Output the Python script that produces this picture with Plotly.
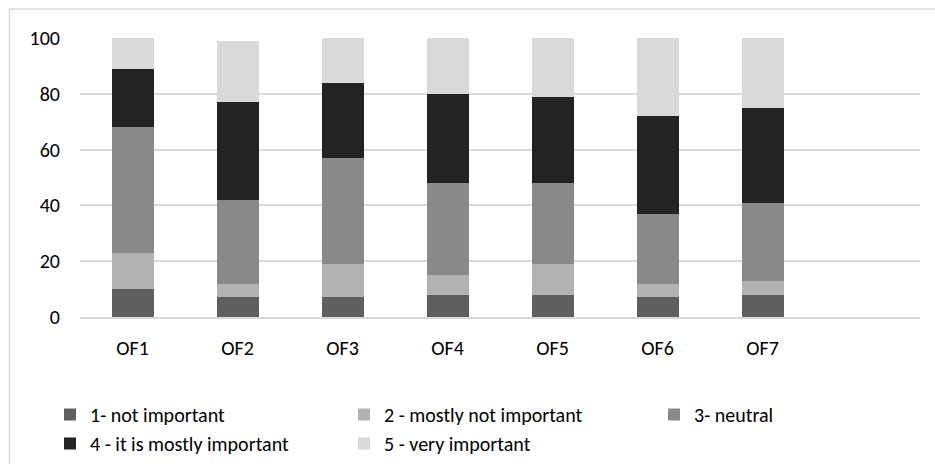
import plotly.graph_objects as go

# Survey responses per factor (percent of respondents)
categories = ["OF1", "OF2", "OF3", "OF4", "OF5", "OF6", "OF7"]
not_important = [10, 7, 7, 8, 8, 7, 8]
mostly_not_important = [13, 5, 12, 7, 11, 5, 5]
neutral = [45, 30, 38, 33, 29, 25, 28]
mostly_important = [21, 35, 27, 32, 31, 35, 34]
very_important = [11, 22, 16, 20, 21, 28, 25]

series_names = [
    "1- not important",
    "2 - mostly not important",
    "3- neutral",
    "4 - it is mostly important",
    "5 - very important",
]
series_values = [not_important, mostly_not_important, neutral,
                 mostly_important, very_important]
series_colors = ["#5f5f5f", "#b2b2b2", "#898989", "#232323", "#d9d9d9"]
# legend columns: first column holds 1 and 4, second 2 and 5, third 3
series_legends = ["legend", "legend2", "legend3", "legend", "legend2"]

y_ticks = [0, 20, 40, 60, 80, 100]

W, H = 935, 464
ML, MR, MT, MB = 80, 15, 38, 147

FONT = "Carlito, Lato, sans-serif"
FS = 20
TXT = "#000000"

fig = go.Figure()
for name, vals, color, lg in zip(series_names, series_values, series_colors, series_legends):
    fig.add_trace(go.Bar(
        x=categories, y=vals, name=name,
        marker=dict(color=color, line=dict(width=0)),
        legend=lg,
    ))

pw = W - ML - MR
ph = H - MT - MB


def px_x(px):
    return (px - ML) / pw


def px_y(py):
    return (H - MB - py) / ph


legend_common = dict(
    orientation="v",
    traceorder="normal",
    xref="container", yref="container",
    xanchor="left", yanchor="top",
    y=1 - 395 / H,
    font=dict(family=FONT, size=FS, color=TXT),
    bgcolor="rgba(0,0,0,0)",
    itemwidth=30,
    tracegroupgap=0,
)

fig.update_layout(
    width=W, height=H,
    margin=dict(l=ML, r=MR, t=MT, b=MB, autoexpand=False),
    paper_bgcolor="white", plot_bgcolor="white",
    barmode="stack", bargap=0.6,
    font=dict(family=FONT, size=FS, color=TXT),
    showlegend=True,
    legend=dict(legend_common, x=50 / W),
    legend2=dict(legend_common, x=344 / W),
    legend3=dict(legend_common, x=654 / W),
    xaxis=dict(
        type="category",
        range=[-0.5, 7.5],
        showgrid=False,
        showline=True, linecolor="#d9d9d9", linewidth=1.5,
        ticks="", ticklabelstandoff=12,
        tickfont=dict(family=FONT, size=FS, color=TXT),
        fixedrange=True,
    ),
    yaxis=dict(
        range=[0, 100],
        tickvals=y_ticks,
        showgrid=True, gridcolor="#d9d9d9", gridwidth=1.5,
        zeroline=False, showline=False,
        ticks="", ticklabelstandoff=19,
        tickfont=dict(family=FONT, size=FS, color=TXT),
        fixedrange=True,
    ),
    shapes=[dict(
        type="rect", xref="paper", yref="paper",
        x0=px_x(9.5), x1=px_x(W + 20),
        y0=px_y(H + 20), y1=px_y(9),
        line=dict(color="#d9d9d9", width=1.5),
        fillcolor="rgba(0,0,0,0)", layer="below",
    )],
)

fig.write_html("out.html")
